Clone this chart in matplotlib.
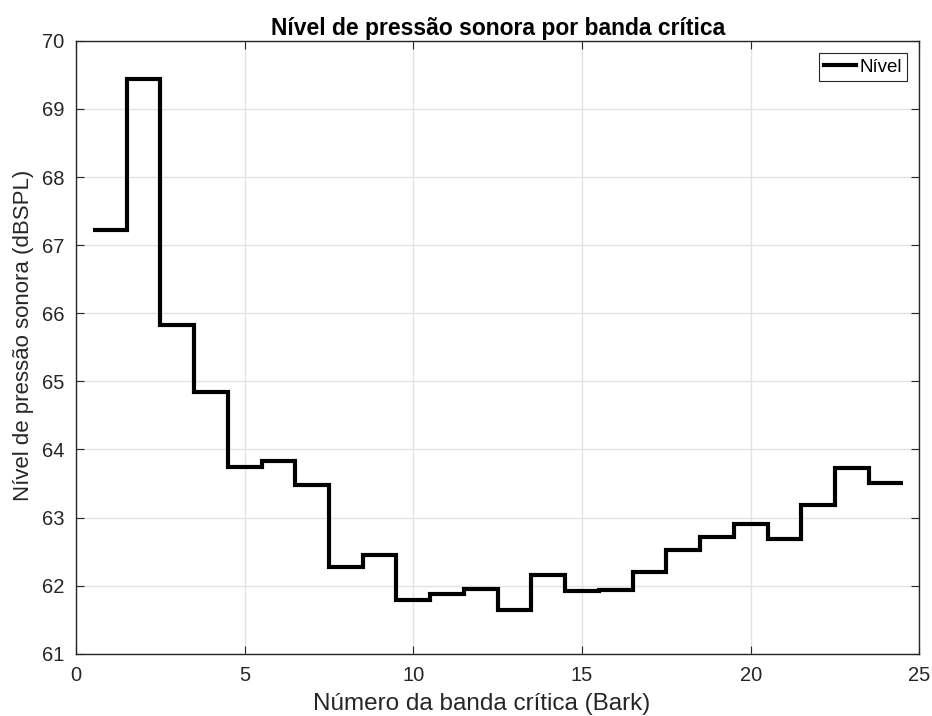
import numpy as np
import matplotlib.pyplot as plt

#Font settings (Helvetica-like)
plt.rcParams['font.family'] = ['Liberation Sans', 'DejaVu Sans']

#---------/Data/------------------------------#

#Critical band numbers (Bark)
bandas = np.arange(1, 25)

#Sound pressure level per band (dBSPL)
nivel = [67.22, 69.44, 65.83, 64.84, 63.74, 63.83, 63.48, 62.27,
         62.45, 61.79, 61.87, 61.95, 61.64, 62.15, 61.92, 61.93,
         62.20, 62.53, 62.71, 62.91, 62.69, 63.19, 63.73, 63.50]

#Band edges for the stairs plot
bordas = np.append(bandas - 0.5, bandas[-1] + 0.5)

#x and y ticks
xticks = [0, 5, 10, 15, 20, 25]
yticks = np.arange(61, 71)

#---------/Plot/------------------------------#

cinza = "#262626"

fig = plt.figure(figsize=(9.32, 7.16), dpi=100)
ax = fig.add_axes([0.0815, 0.087, 0.905, 0.856])

ax.stairs(nivel, bordas, baseline=None, color="k", linewidth=3.0, label="Nível")

ax.set_xlim(0, 25)
ax.set_ylim(61, 70)
ax.set_xticks(xticks)
ax.set_yticks(yticks)

#Grid and box
ax.grid(True, color="#e3e3e3", linewidth=1.0)
ax.set_axisbelow(True)
for s in ax.spines.values():
    s.set_color(cinza)
    s.set_linewidth(1.0)
ax.tick_params(direction="in", top=True, right=True, length=6,
               width=0.8, colors=cinza, labelsize=14.5)
ax.tick_params(axis="x", pad=9)
ax.tick_params(axis="y", pad=8.5)

#Labels
ax.set_title("Nível de pressão sonora por banda crítica",
             fontsize=16.5, fontweight="bold", pad=4)
ax.set_xlabel("Número da banda crítica (Bark)", fontsize=17.5, color=cinza)
ax.set_ylabel("Nível de pressão sonora (dBSPL)", fontsize=16, color=cinza)
ax.xaxis.set_label_coords(0.4815, -0.064)
ax.yaxis.set_label_coords(-0.05, 0.519)

#Legend
leg = ax.legend(loc="upper right", fontsize=13.5, fancybox=False,
                framealpha=1, edgecolor=cinza, handlelength=1.7,
                handletextpad=0.15, borderpad=0.3, borderaxespad=0.65)
leg.get_frame().set_linewidth(0.8)

plt.savefig("out.png", dpi=100)
